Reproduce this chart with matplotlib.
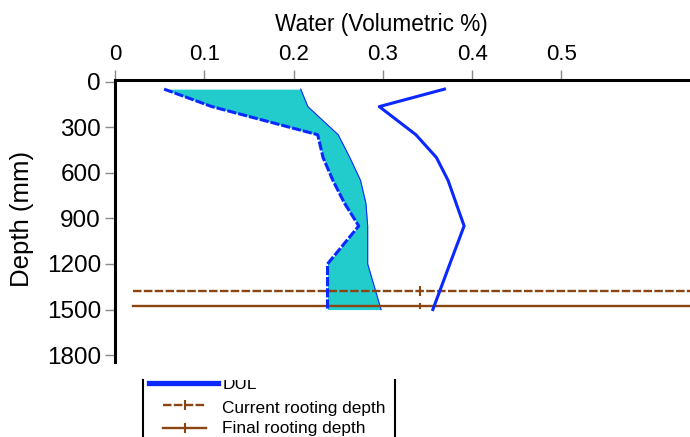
import matplotlib
matplotlib.use("Agg")
import matplotlib.pyplot as plt

plt.rcParams['font.family'] = ['Liberation Sans', 'DejaVu Sans']

# soil profile (depth in mm, water in volumetric fraction)
depth_mm = [50, 165, 350, 500, 650, 800, 950, 1200, 1500]
ll = [0.055, 0.1085, 0.227, 0.233, 0.244, 0.257, 0.273, 0.238, 0.238]
sw = [0.208, 0.216, 0.250, 0.263, 0.275, 0.281, 0.283, 0.283, 0.298]
dul = [0.369, 0.296, 0.337, 0.360, 0.373, 0.382, 0.391, 0.375, 0.356]

# rooting depths
root_x = [0.02, 0.3415, 0.66]
current_root = 1380
final_root = 1475

x_ticks = [0, 0.1, 0.2, 0.3, 0.4, 0.5]
x_tick_labels = ['0', '0.1', '0.2', '0.3', '0.4', '0.5']
y_ticks = [0, 300, 600, 900, 1200, 1500, 1800]
legend_labels = ['DUL', 'Current rooting depth', 'Final rooting depth']

blue = '#0A28FF'
cyan = '#22CCCC'
brown = '#8B4513'

W, H = 690, 437
fig = plt.figure(figsize=(W / 100, H / 100), dpi=100)

#####################################################################
# main axes
ax = fig.add_axes([115 / W, 75 / H, 575 / W, (357 - 75) / H])
ax.set_xlim(0, 0.644)
ax.set_ylim(1845, -10)

ax.fill_betweenx(depth_mm, ll, sw, color=cyan, lw=0, zorder=2)
ax.plot(sw, depth_mm, color=blue, lw=0.8, zorder=3)

ax.plot(root_x, [current_root] * 3, color=brown, lw=1.7, ls=(0, (3.6, 1.0)),
        marker='|', ms=7, mew=1.5, markevery=[1], zorder=4)
ax.plot(root_x, [final_root] * 3, color=brown, lw=1.7,
        marker='|', ms=5, mew=1.5, markevery=[1], zorder=4)

ax.plot(ll, depth_mm, color=blue, lw=2.2, ls=(0, (3, 0.65)), zorder=5)
ax.plot(dul, depth_mm, color=blue, lw=2.2, zorder=5)

ax.xaxis.tick_top()
ax.set_xticks(x_ticks)
ax.set_xticklabels(x_tick_labels)
ax.set_yticks(y_ticks)
ax.tick_params(axis='both', direction='out', length=7, width=1, color='#888888', pad=4)
ax.tick_params(axis='x', labelsize=16)
ax.tick_params(axis='y', labelsize=17.5, pad=3)
for s in ['right', 'bottom']:
    ax.spines[s].set_visible(False)
for s in ['top', 'left']:
    ax.spines[s].set_linewidth(2.2)

fig.text(381.5 / W, 1 - 31.5 / H, 'Water (Volumetric %)', fontsize=16.3,
         ha='center', va='baseline')
fig.text(22 / W, 1 - 218.5 / H, 'Depth (mm)', fontsize=18.5, rotation=90,
         ha='center', va='center')

#####################################################################
# legend (scrolled box, top part hidden)
lg = fig.add_axes([142.5 / W, 0, 252 / W, 57 / H])
lg.set_xlim(0, 252)
lg.set_ylim(57, 0)
lg.set_xticks([])
lg.set_yticks([])
lg.patch.set_alpha(0)
for s in ['top', 'bottom']:
    lg.spines[s].set_visible(False)
for s in ['left', 'right']:
    lg.spines[s].set_linewidth(1.5)

lg.plot([6.5, 75.5], [3.3, 3.3], color=blue, lw=3.8, clip_on=True)
lg.plot([20.5, 42, 63.5], [25, 25, 25], color=brown, lw=1.7, ls=(0, (3.6, 1.0)),
        marker='|', ms=7, mew=1.5, markevery=[1])
lg.plot([20.5, 42, 63.5], [48.3, 48.3, 48.3], color=brown, lw=1.7,
        marker='|', ms=7, mew=1.5, markevery=[1])
for lab, yb in zip(legend_labels, [9.3, 33, 53.5]):
    lg.text(80, yb, lab, fontsize=12.4, va='baseline', ha='left', clip_on=True)

fig.savefig('out.png', dpi=100)
plt.close(fig)
